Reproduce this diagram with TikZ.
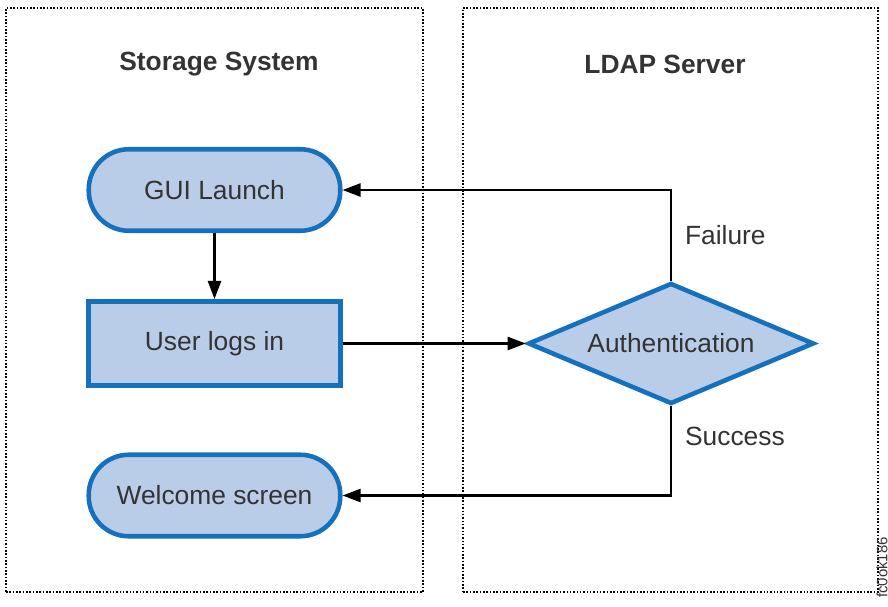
\documentclass[tikz,border=0pt]{standalone}
\usepackage{fontspec}
\setmainfont{Liberation Sans}
\usepackage{xcolor}
\usepackage{tikz}
\usetikzlibrary{shapes.geometric, arrows.meta, positioning}
\definecolor{ldblue}{HTML}{1570BE}
\definecolor{ldfill}{HTML}{B9CDE9}
\definecolor{ldtext}{HTML}{333333}
\tikzset{
  zone/.style={rectangle, draw=black, densely dotted, line width=0.9pt},
  zonetitle/.style={font=\bfseries\fontsize{15}{18}\selectfont, text=ldtext},
  terminal/.style={rectangle, rounded corners=0.8cm, draw=ldblue, line width=2.6pt,
    fill=ldfill, text=ldtext, font=\fontsize{15}{18}\selectfont,
    minimum width=5.03cm, minimum height=1.63cm},
  process/.style={rectangle, draw=ldblue, line width=2.6pt,
    fill=ldfill, text=ldtext, font=\fontsize{15}{18}\selectfont,
    minimum width=5.03cm, minimum height=1.69cm},
  decision/.style={diamond, aspect=2.32, inner sep=0pt, draw=ldblue, line width=2.6pt,
    fill=ldfill, text=ldtext, font=\fontsize{15}{18}\selectfont,
    minimum width=5.72cm, minimum height=2.42cm},
  lbl/.style={font=\fontsize{15}{18}\selectfont, text=ldtext},
  ar/.style={-{Triangle[length=0.36cm, width=0.26cm]}, line width=1.4pt},
}
\begin{document}
\begin{tikzpicture}

  \useasboundingbox (0,0) rectangle (17.76,-12.12);

  % --- Zones ---
  \node[zone, minimum width=8.34cm, minimum height=11.68cm] (storage) at (4.29,-6.0) {};
  \node[zone, minimum width=8.30cm, minimum height=11.68cm] (ldap) at (13.41,-6.0) {};
  \node[zonetitle] (storagetitle) at (4.38,-1.28) {Storage System};
  \node[zonetitle] (ldaptitle) at (13.30,-1.28) {LDAP Server};

  % --- Storage system steps ---
  \node[terminal] (gui)     at (4.29,-3.80) {GUI Launch};
  \node[process]  (login)   at (4.29,-6.87) {User logs in};
  \node[terminal] (welcome) at (4.29,-9.91) {Welcome screen};

  % --- LDAP check ---
  \node[decision] (auth) at (13.42,-6.87) {Authentication};

  % --- Flow ---
  \draw[ar] (gui) -- (login);
  \draw[ar] (login) -- (auth);
  \draw[ar] (auth.north) |- node[lbl, pos=0.25, right=0.14cm] {Failure} (gui.east);
  \draw[ar] (auth.south) |- node[lbl, pos=0.17, right=0.14cm] {Success} (welcome.east);

  % --- Figure id ---
  \node[font=\fontsize{8.5}{10}\selectfont, text=ldtext, rotate=90, inner sep=0pt] (figid) at (17.64,-11.35) {fc0ok186};

\end{tikzpicture}
\end{document}
